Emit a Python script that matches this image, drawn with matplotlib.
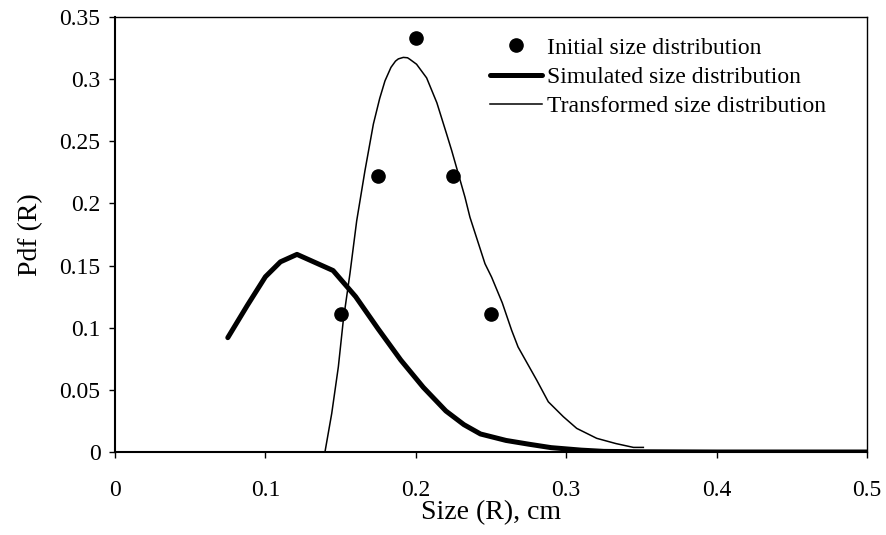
import matplotlib
matplotlib.use("Agg")
import matplotlib.pyplot as plt

# Initial size distribution (points)
init_x = [0.15, 0.175, 0.2, 0.225, 0.25]
init_y = [0.111, 0.222, 0.333, 0.222, 0.111]

# Simulated size distribution (thick line)
sim_x = [0.075, 0.088, 0.1, 0.11, 0.121, 0.145, 0.16, 0.175, 0.19, 0.205,
         0.22, 0.232, 0.243, 0.26, 0.275, 0.29, 0.31, 0.325, 0.35, 0.4, 0.45, 0.5]
sim_y = [0.092, 0.118, 0.141, 0.153, 0.159, 0.146, 0.125, 0.099, 0.074, 0.052,
         0.033, 0.022, 0.0145, 0.0093, 0.0063, 0.0035, 0.0015, 0.0005, 0.0002, 0.0, 0.0, 0.0]

# Transformed size distribution (thin line)
tr_x = [0.1396, 0.1441, 0.1485, 0.1518, 0.1562, 0.1607, 0.1662, 0.1718, 0.1760,
        0.1795, 0.1835, 0.1865, 0.1884, 0.1917, 0.1945, 0.196, 0.2005, 0.2072,
        0.214, 0.2205, 0.2239, 0.2327, 0.236, 0.246, 0.2504, 0.2575, 0.2637,
        0.268, 0.2745, 0.2804, 0.2881, 0.2981, 0.307, 0.3203, 0.333, 0.3447, 0.3513]
tr_y = [0.0, 0.031, 0.0685, 0.106, 0.1434, 0.186, 0.2264, 0.2639, 0.2845,
        0.2986, 0.3095, 0.3145, 0.3163, 0.3175, 0.3172, 0.316, 0.312, 0.301,
        0.281, 0.2558, 0.2424, 0.205, 0.1889, 0.1515, 0.1407, 0.12, 0.098,
        0.0845, 0.0705, 0.0578, 0.0404, 0.0284, 0.019, 0.011, 0.0068, 0.0037, 0.0037]

xticks = [0, 0.1, 0.2, 0.3, 0.4, 0.5]
xtick_labels = ["0", "0.1", "0.2", "0.3", "0.4", "0.5"]
yticks = [0, 0.05, 0.1, 0.15, 0.2, 0.25, 0.3, 0.35]
ytick_labels = ["0", "0.05", "0.1", "0.15", "0.2", "0.25", "0.3", "0.35"]

plt.rcParams['font.family'] = ['Liberation Serif', 'DejaVu Serif']

fig = plt.figure(figsize=(8.86, 5.35), dpi=100)
ax = fig.add_axes([115/886, 1-452/535, (867-115)/886, (452-17)/535])

ax.plot(init_x, init_y, 'o', color='black', markersize=9.5, linestyle='none',
        label='Initial size distribution')
ax.plot(sim_x, sim_y, '-', color='black', linewidth=3.6, solid_capstyle='round',
        solid_joinstyle='round', label='Simulated size distribution')
ax.plot(tr_x, tr_y, '-', color='black', linewidth=1.1, solid_joinstyle='round',
        label='Transformed size distribution')

ax.set_xlim(0, 0.5)
ax.set_ylim(0, 0.35)
ax.set_xticks(xticks)
ax.set_xticklabels(xtick_labels)
ax.set_yticks(yticks)
ax.set_yticklabels(ytick_labels)
ax.tick_params(direction='out', length=4.5, width=1, labelsize=17, colors='black', pad=6)
ax.tick_params(axis='x', pad=16)

for side in ['left', 'bottom']:
    ax.spines[side].set_linewidth(1.5)
for side in ['top', 'right']:
    ax.spines[side].set_linewidth(1.0)

ax.set_xlabel('Size (R), cm', fontsize=20, labelpad=-1)
ax.set_ylabel('Pdf (R)', fontsize=20, labelpad=12)

leg = ax.legend(loc='upper left', bbox_to_anchor=((490-115)/752, (452-37)/435),
                frameon=False, fontsize=17, handlelength=2.2, handletextpad=0.2,
                labelspacing=0.33, borderpad=0, borderaxespad=0, numpoints=1)

fig.savefig('out.png', dpi=100)
